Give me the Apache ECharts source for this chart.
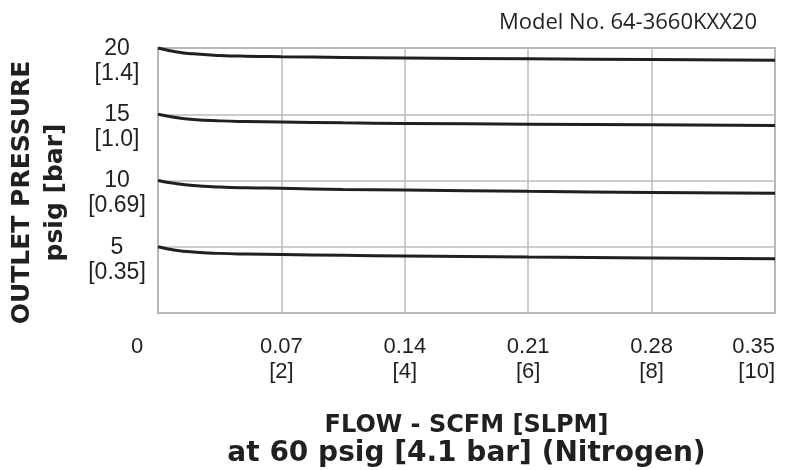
<!DOCTYPE html>
<html>
<head>
<meta charset="utf-8">
<script src="https://cdn.jsdelivr.net/npm/echarts@6/dist/echarts.min.js"></script>
<style>html,body{margin:0;padding:0;background:#fff}#c{width:799px;height:470px}</style>
</head>
<body>
<div id="c"></div>
<script>
// Flow in SCFM
var flow = [0, 0.01, 0.02, 0.035, 0.05, 0.07, 0.105, 0.14, 0.21, 0.28, 0.35];
// Outlet pressure curves (psig)
var p20 = [20, 19.72, 19.56, 19.44, 19.38, 19.34, 19.29, 19.25, 19.18, 19.13, 19.08];
var p15 = [15, 14.75, 14.6, 14.5, 14.45, 14.41, 14.35, 14.31, 14.25, 14.2, 14.15];
var p10 = [10, 9.77, 9.62, 9.51, 9.45, 9.41, 9.33, 9.28, 9.18, 9.1, 9.03];
var p5  = [5, 4.74, 4.6, 4.5, 4.45, 4.41, 4.35, 4.3, 4.22, 4.16, 4.1];
// Tick labels
var xTickScfm = ['0', '0.07', '0.14', '0.21', '0.28', '0.35'];
var xTickSlpm = ['', '[2]', '[4]', '[6]', '[8]', '[10]'];
var yTickPsig = ['0', '5', '10', '15', '20'];
var yTickBar  = ['', '[0.35]', '[0.69]', '[1.0]', '[1.4]'];

function pairs(ys) { return flow.map(function (x, i) { return [x, ys[i]]; }); }
var lineStyle = { color: '#231f20', width: 3 };
function mk(name, ys) {
  return { name: name, type: 'line', smooth: true, symbol: 'none', data: pairs(ys),
           lineStyle: lineStyle, itemStyle: { color: '#231f20' } };
}
var ink = '#231f20';
var tickFont = { fontSize: 22, lineHeight: 25, color: ink, fontFamily: 'Liberation Sans' };
var yFont = { fontSize: 23, color: ink, fontFamily: 'Liberation Sans' };

var chart = echarts.init(document.getElementById('c'));
chart.setOption({
  animation: false,
  title: {
    text: 'Model No. 64-3660KXX20', right: 37, top: 7,
    textStyle: { fontFamily: 'Open Sans', fontWeight: 'normal', fontSize: 22, color: ink }
  },
  grid: { left: 158, right: 24, top: 48, bottom: 157, show: true, borderColor: '#aaaaaa', borderWidth: 2,
          outerBoundsMode: 'none', containLabel: false },
  xAxis: {
    type: 'value', min: 0, max: 0.35, interval: 0.07,
    axisLine: { show: false }, axisTick: { show: false },
    splitLine: { lineStyle: { color: '#bdbdbd', width: 1.5 } },
    axisLabel: {
      margin: 21, fontSize: 22, lineHeight: 25, color: ink, fontFamily: 'Liberation Sans',
      alignMaxLabel: 'right', showMinLabel: true, showMaxLabel: true, hideOverlap: false,
      formatter: function (v) {
        var i = Math.round(v / 0.07);
        if (i === 0) return '{z|0}';
        return '{a|' + xTickScfm[i] + '}\n{a|' + xTickSlpm[i] + '}';
      },
      rich: {
        a: tickFont,
        z: Object.assign({}, tickFont, { padding: [0, 42, 0, 0] })
      }
    },
    name: '{a|FLOW - SCFM [SLPM]}\n{b|at 60 psig [4.1 bar] (Nitrogen)}',
    nameLocation: 'middle', nameGap: 99,
    nameTextStyle: {
      color: ink,
      rich: {
        a: { fontFamily: 'DejaVu Sans', fontWeight: 'bold', fontSize: 24, lineHeight: 28, color: ink },
        b: { fontFamily: 'DejaVu Sans', fontWeight: 'bold', fontSize: 28, lineHeight: 28, color: ink }
      }
    }
  },
  yAxis: {
    type: 'value', min: 0, max: 20, interval: 5,
    axisLine: { show: false }, axisTick: { show: false },
    splitLine: { lineStyle: { color: '#bdbdbd', width: 1.5 } },
    axisLabel: {
      margin: 41, align: 'center', verticalAlign: 'top', fontSize: 23,
      color: ink, fontFamily: 'Liberation Sans', showMinLabel: true, showMaxLabel: true, hideOverlap: false,
      formatter: function (v) {
        var i = Math.round(v / 5);
        if (i === 0) return '';
        return '{a|' + yTickPsig[i] + '}\n{b|' + yTickBar[i] + '}';
      },
      rich: {
        a: Object.assign({}, yFont, { lineHeight: 1 }),
        b: Object.assign({}, yFont, { lineHeight: 49 })
      }
    },
    name: 'OUTLET PRESSURE\npsig [bar]',
    nameLocation: 'middle', nameGap: 86, nameRotate: 90,
    nameTextStyle: { fontFamily: 'DejaVu Sans', fontWeight: 'bold', fontSize: 25, lineHeight: 33, color: ink, padding: [0, 24, 0, 0] }
  },
  series: [mk('20 psig', p20), mk('15 psig', p15), mk('10 psig', p10), mk('5 psig', p5)]
});
</script>
</body>
</html>
